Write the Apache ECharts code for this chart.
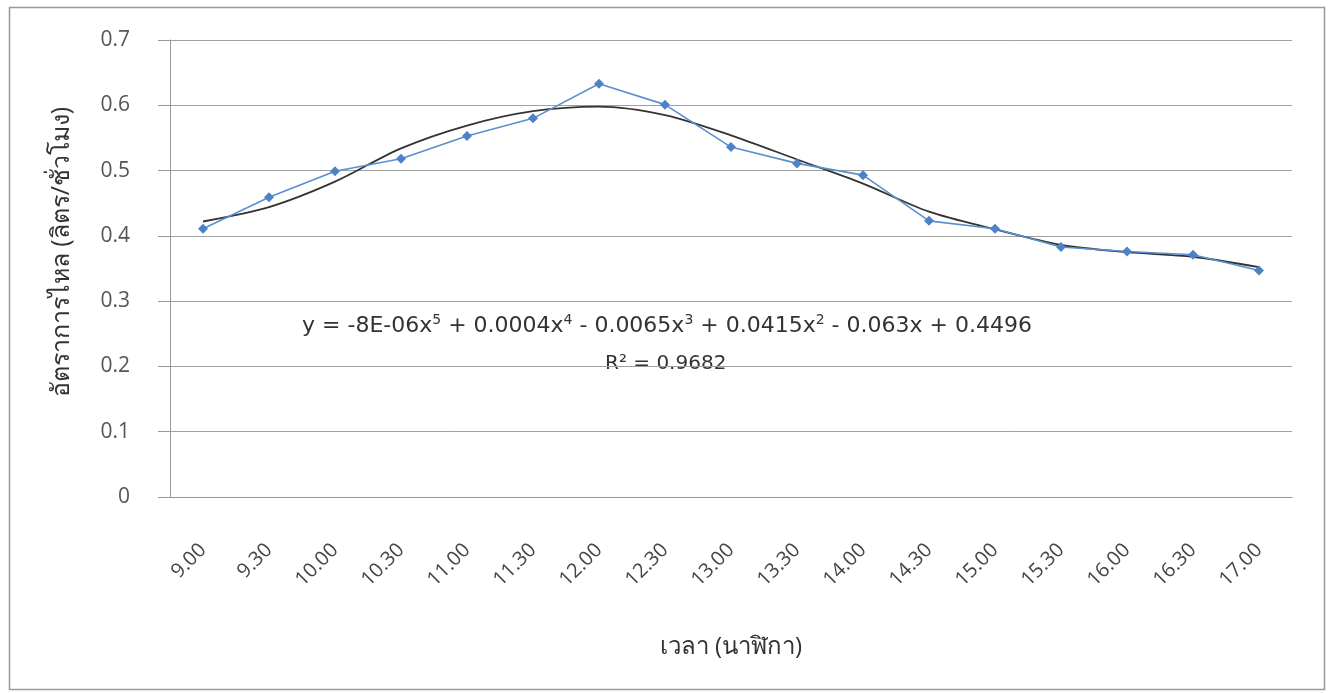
<!DOCTYPE html>
<html><head><meta charset="utf-8">
<script src="https://cdn.jsdelivr.net/npm/echarts@6/dist/echarts.min.js"></script>
<style>html,body{margin:0;padding:0;background:#fff}#c{width:1330px;height:693px}</style>
</head><body><div id="c"></div>
<script>
const categories = ['9.00','9.30','10.00','10.30','11.00','11.30','12.00','12.30','13.00','13.30','14.00','14.30','15.00','15.30','16.00','16.30','17.00'];
const flowRate = [0.411,0.459,0.499,0.518,0.553,0.580,0.633,0.601,0.536,0.511,0.493,0.423,0.411,0.383,0.376,0.371,0.347];
const trendValues = [0.422,0.444,0.483,0.534,0.569,0.591,0.598,0.585,0.554,0.517,0.480,0.437,0.410,0.386,0.375,0.368,0.352];
const yTicks = [0,0.1,0.2,0.3,0.4,0.5,0.6,0.7];
const yTitle = 'อัตราการไหล (ลิตร/ชั่วโมง)';
const xTitle = 'เวลา (นาฬิกา)';
const equationText = 'y = -8E-06x{s|5} + 0.0004x{s|4} - 0.0065x{s|3} + 0.0415x{s|2} - 0.063x + 0.4496';
const r2Text = 'R² = 0.9682';

const chart = echarts.init(document.getElementById('c'));
const font = '"Open Sans","Noto Sans",sans-serif';
const eqFont = '"DejaVu Sans",sans-serif';
chart.setOption({
  animation:false,
  backgroundColor:'#fff',
  grid:{left:170,right:38,top:40,bottom:196,containLabel:false},
  xAxis:{type:'category',data:categories,boundaryGap:true,
    axisLine:{lineStyle:{color:'#999'}},axisTick:{show:false},
    axisLabel:{rotate:45,margin:50,fontSize:20,color:'#444',fontFamily:font},
    name:xTitle,nameLocation:'middle',nameGap:138,
    nameTextStyle:{fontSize:24,color:'#333',fontFamily:font}},
  yAxis:{type:'value',min:yTicks[0],max:yTicks[yTicks.length-1],interval:0.1,
    axisLine:{show:true,lineStyle:{color:'#999'}},
    axisTick:{show:true,length:12,lineStyle:{color:'#999'}},
    splitLine:{lineStyle:{color:'#a0a0a0',width:1}},
    axisLabel:{margin:40,fontSize:21,color:'#555',fontFamily:font,
      formatter:v=>{const t=yTicks.find(x=>Math.abs(x-v)<1e-9);return t===0?'0':String(t);}}},
  series:[
    {type:'line',data:flowRate,symbol:'diamond',symbolSize:10,
      lineStyle:{color:'#5B8FD0',width:1.6},itemStyle:{color:'#4F81C8'},z:3},
    {type:'line',data:trendValues,symbol:'none',smooth:0.3,
      lineStyle:{color:'#333',width:1.8},z:2}
  ],
  graphic:[
    {type:'rect',left:7,top:5,shape:{width:1315,height:682},
      style:{fill:'none',stroke:'#999',lineWidth:1.5},silent:true},
    {type:'text',x:62,y:252,rotation:Math.PI/2,style:{
      text:yTitle,font:'25px '+font,fill:'#333',align:'center',verticalAlign:'middle'}},
    {type:'text',left:302,top:313,style:{
      text:equationText,font:'22px '+eqFont,fill:'#333',
      rich:{s:{fontSize:14,fontFamily:'DejaVu Sans',verticalAlign:'top',padding:[0,0,12,0],fill:'#333'}}}},
    {type:'text',left:605,top:354,style:{
      text:r2Text,font:'20px '+eqFont,fill:'#333'}}
  ]
});
</script></body></html>
